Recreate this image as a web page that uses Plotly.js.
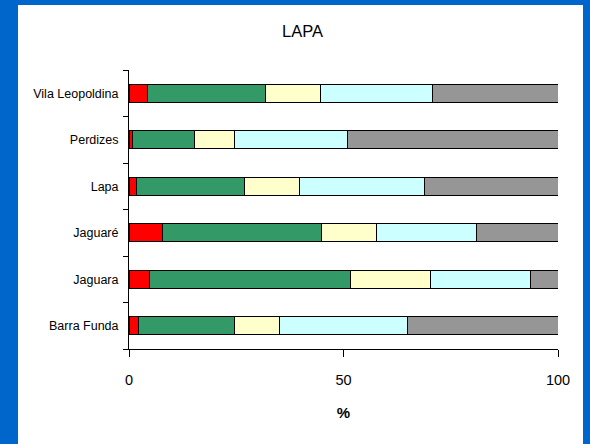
<!DOCTYPE html>
<html>
<head>
<meta charset="utf-8">
<script src="https://cdn.plot.ly/plotly-3.0.1.min.js"></script>
<style>
  html, body { margin: 0; padding: 0; background: #0066cc; width: 590px; height: 444px; overflow: hidden; }
  #myGraph { position: absolute; left: 18px; top: 5px; width: 565px; height: 439px; background: #fff; }
</style>
</head>
<body>
<div id="myGraph"></div>
<script>
// bairros, de baixo para cima
let bairros = ['Barra Funda', 'Jaguara', 'Jaguaré', 'Lapa', 'Perdizes', 'Vila Leopoldina'];

// cada serie em %
let serie1 = [2.3, 4.8, 7.9, 1.7, 0.9, 4.2];
let serie2 = [22.3, 46.8, 37.0, 25.3, 14.3, 27.6];
let serie3 = [10.5, 18.6, 12.9, 12.7, 9.4, 12.9];
let serie4 = [29.8, 23.3, 23.2, 29.1, 26.3, 26.0];
let serie5 = [35.1, 6.5, 19.0, 31.2, 49.1, 29.3];

let nomes = ['Série 1', 'Série 2', 'Série 3', 'Série 4', 'Série 5'];
let cores = ['#ff0000', '#339966', '#ffffcc', '#ccffff', '#969696'];

let fonte = '"Liberation Sans", Arial, sans-serif';

let myGraph = document.getElementById('myGraph');

let data = [];
[serie1, serie2, serie3, serie4, serie5].forEach(function (valores, i) {
    data.push({
        type: 'bar',
        orientation: 'h',
        name: nomes[i],
        y: bairros,
        x: valores,
        marker: { color: cores[i], line: { color: '#000', width: 1 } },
        hoverinfo: 'x+y+name'
    });
});

let layout = {
    barmode: 'stack',
    bargap: 0.61,
    showlegend: false,
    paper_bgcolor: '#fff',
    plot_bgcolor: '#fff',
    width: 565,
    height: 439,
    margin: { l: 110.5, r: 24.5, t: 65, b: 94.7 },
    font: { family: fonte, color: '#000', size: 13 },
    title: {
        text: 'LAPA',
        font: { family: fonte, size: 16.5, color: '#000' },
        x: 0.5035, xanchor: 'center',
        y: 0.941, yanchor: 'middle', yref: 'container'
    },
    xaxis: {
        range: [0, 100],
        tickvals: [0, 50, 100],
        showline: true, linecolor: '#000', linewidth: 1,
        showgrid: false, zeroline: false,
        ticks: 'outside', ticklen: 7, tickcolor: '#000',
        ticklabelstandoff: 11,
        tickfont: { family: fonte, size: 14.5 },
        title: { text: '<b>%</b>', font: { family: fonte, size: 15 }, standoff: 20 },
        fixedrange: true
    },
    yaxis: {
        type: 'category',
        showline: true, linecolor: '#000', linewidth: 1,
        showgrid: false, zeroline: false,
        ticks: 'outside', ticklen: 5, tickcolor: '#000',
        tickson: 'boundaries',
        ticklabelstandoff: 7,
        tickfont: { family: fonte, size: 12.5 },
        fixedrange: true
    }
};

Plotly.newPlot(myGraph, data, layout, { displayModeBar: false, staticPlot: true });
</script>
</body>
</html>
